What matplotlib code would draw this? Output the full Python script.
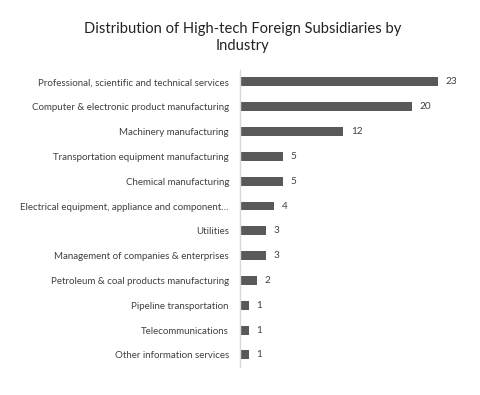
import matplotlib.pyplot as plt

industries = [
    "Professional, scientific and technical services",
    "Computer & electronic product manufacturing",
    "Machinery manufacturing",
    "Transportation equipment manufacturing",
    "Chemical manufacturing",
    "Electrical equipment, appliance and component…",
    "Utilities",
    "Management of companies & enterprises",
    "Petroleum & coal products manufacturing",
    "Pipeline transportation",
    "Telecommunications",
    "Other information services",
]
counts = [23, 20, 12, 5, 5, 4, 3, 3, 2, 1, 1, 1]

plt.rcParams['font.family'] = ['Lato', 'DejaVu Sans']

fig = plt.figure(figsize=(4.8, 3.95), dpi=100)
ax = fig.add_axes([0.5, 0.070, 0.48, 0.754])

ypos = list(range(len(industries)))
ax.barh(ypos, counts, height=0.36, color='#595959')
for y, v in zip(ypos, counts):
    ax.text(v + 0.9, y, str(v), va='center', ha='left', fontsize=7.2, color='#404040')

ax.set_ylim(len(industries) - 0.5, -0.5)
ax.set_xlim(0, 26.8)
ax.set_yticks(ypos)
ax.set_yticklabels(industries, fontsize=7.0, color='#404040')
ax.tick_params(axis='y', length=0, pad=8)
ax.set_xticks([])
for s in ['top', 'right', 'bottom']:
    ax.spines[s].set_visible(False)
ax.spines['left'].set_color('#d9d9d9')
ax.spines['left'].set_linewidth(1)

fig.text(0.505, 0.905, "Distribution of High-tech Foreign Subsidiaries by\nIndustry",
         ha='center', va='center', fontsize=10.6, color='#222222', linespacing=1.35)

fig.savefig('out.png', dpi=100, facecolor='white')
